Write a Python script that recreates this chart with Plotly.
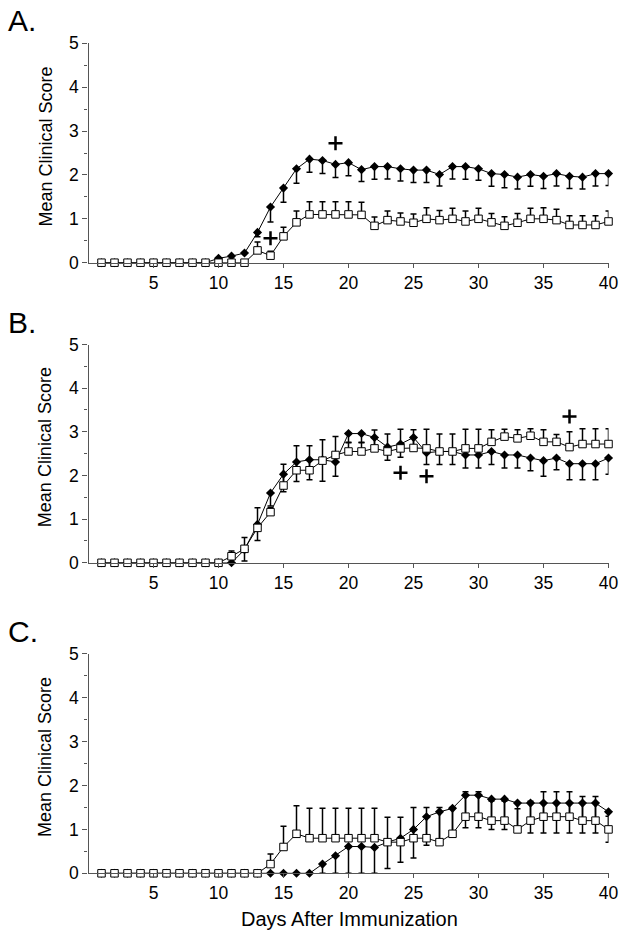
import plotly.graph_objects as go

days = list(range(1, 41))

# Panel A
a_fill = [0]*9 + [0.1, 0.15, 0.22, 0.69, 1.27, 1.7, 2.14, 2.36, 2.33, 2.24, 2.28,
                  2.12, 2.19, 2.19, 2.14, 2.11, 2.11, 2.01, 2.19, 2.19, 2.14,
                  2.03, 2.01, 1.95, 2.01, 1.97, 2.03, 1.97, 1.95, 2.03, 2.03]
a_fill_err = [0]*9 + [0, 0, 0, 0.1, 0.34, 0.32, 0.33, 0.3, 0.3, 0.3, 0.3,
                      0.27, 0.29, 0.28, 0.28, 0.28, 0.28, 0.26, 0.28, 0.29, 0.26,
                      0.29, 0.3, 0.27, 0.27, 0.28, 0.28, 0.28, 0.27, 0.28, 0.27]
a_open = [0]*12 + [0.28, 0.16, 0.6, 0.92, 1.1, 1.1, 1.1, 1.1,
                   1.09, 0.84, 0.97, 0.94, 0.91, 1.0, 0.97, 1.0, 0.94, 1.0,
                   0.92, 0.84, 0.91, 1.0, 1.0, 0.97, 0.86, 0.86, 0.86, 0.94]
a_open_err = [0]*12 + [0.19, 0.1, 0.21, 0.26, 0.29, 0.29, 0.29, 0.29,
                       0.29, 0.2, 0.21, 0.19, 0.2, 0.25, 0.22, 0.24, 0.24, 0.24,
                       0.2, 0.21, 0.21, 0.24, 0.25, 0.25, 0.21, 0.21, 0.21, 0.24]
a_plus_x = [14, 19]
a_plus_y = [0.56, 2.72]

# Panel B
b_fill = [0]*11 + [0.3, 0.88, 1.6, 2.03, 2.31, 2.36, 2.36, 2.31, 2.96,
                   2.96, 2.87, 2.65, 2.72, 2.87, 2.52, 2.55, 2.55, 2.47, 2.47,
                   2.55, 2.47, 2.47, 2.4, 2.34, 2.4, 2.27, 2.27, 2.27, 2.4]
b_fill_err = [0]*11 + [0.26, 0.37, 0.3, 0.4, 0.45, 0.46, 0.49, 0.33, 0.2,
                       0.2, 0.28, 0.3, 0.3, 0.3, 0.27, 0.3, 0.3, 0.3, 0.3,
                       0.3, 0.3, 0.3, 0.29, 0.36, 0.27, 0.37, 0.37, 0.37, 0.37]
b_open = [0]*10 + [0.15, 0.32, 0.8, 1.16, 1.77, 2.12, 2.12, 2.34, 2.47, 2.55,
                   2.55, 2.62, 2.55, 2.62, 2.63, 2.62, 2.55, 2.55, 2.62, 2.62,
                   2.77, 2.89, 2.85, 2.91, 2.77, 2.77, 2.65, 2.72, 2.72, 2.72]
b_open_err = [0]*10 + [0.12, 0.26, 0.46, 0.1, 0.49, 0.56, 0.56, 0.48, 0.42, 0.2,
                       0.2, 0.42, 0.4, 0.44, 0.42, 0.44, 0.4, 0.4, 0.44, 0.44,
                       0.28, 0.17, 0.2, 0.16, 0.28, 0.17, 0.35, 0.35, 0.35, 0.35]
b_plus_x = [24, 26, 37]
b_plus_y = [2.06, 1.98, 3.35]

# Panel C
c_fill = [0]*17 + [0.21, 0.4, 0.61, 0.61, 0.59, 0.71, 0.8, 1.0, 1.29, 1.4, 1.48,
                   1.78, 1.78, 1.69, 1.69, 1.6, 1.6, 1.6, 1.6, 1.6, 1.6, 1.6, 1.4]
c_fill_err = [0]*17 + [0.21, 0.4, 0.61, 0.61, 0.59, 0.6, 0.55, 0.65, 0.65, 0.7, 0.6,
                       0.74, 0.74, 0.69, 0.69, 0.6, 0.68, 0.68, 0.68, 0.68, 0.68, 0.68, 0.69]
c_open = [0]*13 + [0.21, 0.6, 0.9, 0.8, 0.8, 0.8, 0.8, 0.8, 0.8, 0.71, 0.71,
                   0.8, 0.8, 0.71, 0.9, 1.29, 1.29, 1.2, 1.2, 1.0, 1.2, 1.29,
                   1.29, 1.29, 1.2, 1.2, 1.0]
c_open_err = [0]*13 + [0.23, 0.47, 0.64, 0.68, 0.68, 0.68, 0.68, 0.68, 0.68, 0.57, 0.57,
                       0.7, 0.7, 0.79, 0.6, 0.57, 0.57, 0.45, 0.45, 0.47, 0.44, 0.57,
                       0.57, 0.57, 0.55, 0.55, 0.3]

panel_labels = ["A.", "B.", "C."]
y_title = "Mean Clinical Score"
x_title = "Days After Immunization"
x_ticks = [5, 10, 15, 20, 25, 30, 35, 40]
y_ticks = [0, 1, 2, 3, 4, 5]

W, H = 624, 939
x_dom = [88.5 / W, 608.5 / W]
# pixel (top, bottom) of each plot area
pix = [(43.3, 262.7), (344.5, 562.8), (653.9, 873.3)]

FONT = "Arial, Liberation Sans, sans-serif"
AX = "#555555"
fig = go.Figure()

panels = [
    (a_fill, a_fill_err, a_open, a_open_err, a_plus_x, a_plus_y),
    (b_fill, b_fill_err, b_open, b_open_err, b_plus_x, b_plus_y),
    (c_fill, c_fill_err, c_open, c_open_err, [], []),
]

layout = dict(width=W, height=H,
              margin=dict(l=0, r=0, t=0, b=0, pad=0, autoexpand=False),
              paper_bgcolor="white", plot_bgcolor="white", showlegend=False,
              font=dict(family=FONT, color="black"))
annotations = []

for i, (f, fe, o, oe, px, py) in enumerate(panels):
    n = "" if i == 0 else str(i + 1)
    xa, ya = "x" + n, "y" + n
    top, bot = pix[i]
    layout["xaxis" + n] = dict(
        domain=x_dom, range=[0, 40], anchor=ya, tickvals=x_ticks, automargin=False,
        ticks="outside", ticklen=4, tickwidth=1.2, tickcolor=AX,
        showline=True, linecolor=AX, linewidth=1.3, showgrid=False, zeroline=False,
        tickfont=dict(size=17.5, family=FONT, color="black"))
    layout["yaxis" + n] = dict(
        domain=[1 - bot / H, 1 - top / H], range=[0, 5], anchor=xa, tickvals=y_ticks,
        automargin=False,
        ticks="outside", ticklen=5, tickwidth=1.2, tickcolor=AX,
        minor=dict(dtick=0.5, ticks="outside", ticklen=3, tickcolor=AX),
        showline=True, linecolor=AX, linewidth=1.3, showgrid=False, zeroline=False,
        tickfont=dict(size=17.5, family=FONT, color="black"))

    fig.add_trace(go.Scatter(
        x=days, y=f, xaxis=xa, yaxis=ya, mode="lines+markers", cliponaxis=False,
        line=dict(color="black", width=1),
        marker=dict(symbol="diamond", size=7, color="black"),
        error_y=dict(type="data", symmetric=False, array=[0]*40, arrayminus=fe,
                     color="black", thickness=1.5, width=3)))
    fig.add_trace(go.Scatter(
        x=days, y=o, xaxis=xa, yaxis=ya, mode="lines+markers", cliponaxis=False,
        line=dict(color="black", width=1),
        marker=dict(symbol="square", size=7.5, color="white",
                    line=dict(color="black", width=1)),
        error_y=dict(type="data", symmetric=False, array=oe, arrayminus=[0]*40,
                     color="black", thickness=1.5, width=3)))
    if px:
        fig.add_trace(go.Scatter(
            x=px, y=py, xaxis=xa, yaxis=ya, mode="markers", cliponaxis=False,
            marker=dict(symbol="cross-thin", size=10,
                        line=dict(color="black", width=2.5))))

    annotations.append(dict(text=panel_labels[i], xref="paper", yref="paper",
                            x=6 / W, y=1 - (top - 22.3) / H, xanchor="left", yanchor="middle",
                            showarrow=False, font=dict(size=30, family=FONT)))
    annotations.append(dict(text=y_title, xref="paper", yref="paper",
                            x=45 / W, y=1 - ((top + bot) / 2 - 6.5) / H,
                            xanchor="center", yanchor="middle", textangle=-90,
                            showarrow=False, font=dict(size=18, family=FONT)))

annotations.append(dict(text=x_title, xref="paper", yref="paper",
                        x=349 / W, y=1 - 919 / H, xanchor="center", yanchor="middle",
                        showarrow=False, font=dict(size=20, family=FONT)))
layout["annotations"] = annotations
fig.update_layout(**layout)
fig.write_html("out.html",
               config={"displayModeBar": False},
               post_script="document.body.style.margin='0';"
                           "document.body.style.overflow='hidden';")
